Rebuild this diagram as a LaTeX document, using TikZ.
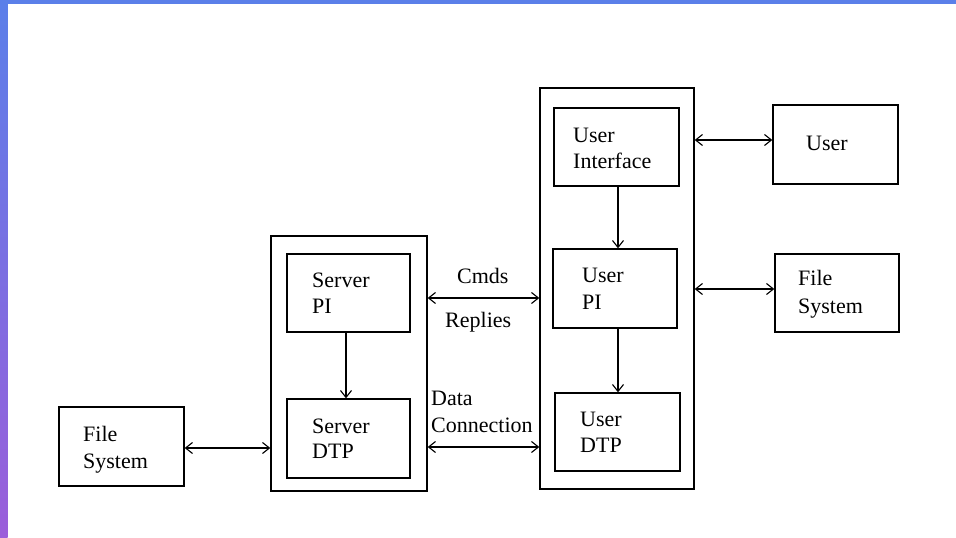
\documentclass[tikz,border=0pt]{standalone}
\usepackage{fontspec}
\setmainfont{Liberation Serif}
\usetikzlibrary{arrows.meta}
\definecolor{bandblue}{RGB}{91,127,233}
\definecolor{bandviolet}{RGB}{155,94,218}
\begin{document}
\begin{tikzpicture}[x=1pt,y=-1pt,
  box/.style={draw=black,line width=1.3pt,inner sep=0pt},
  lbl/.style={anchor=base west,inner sep=0pt,font=\fontsize{22}{26}\selectfont},
  link/.style={line width=1.1pt,{Straight Barb[length=7pt,width=11pt]}-{Straight Barb[length=7pt,width=11pt]}},
  flow/.style={line width=1.1pt,-{Straight Barb[length=7pt,width=11pt]}}]
  \useasboundingbox (0,0) rectangle (956,538);
  \fill[white] (0,0) rectangle (956,538);
  % frame bands
  \fill[bandblue] (0,0) rectangle (956,4);
  \shade[top color=bandblue,bottom color=bandviolet] (0,0) rectangle (7.5,538);

  % boxes
  \node[box,minimum width=125pt,minimum height=79pt] (fsl) at (121.5,446.5) {};
  \node[box,minimum width=156pt,minimum height=255pt] (srv) at (349,363.5) {};
  \node[box,minimum width=123pt,minimum height=78pt] (spi) at (348.5,293) {};
  \node[box,minimum width=123pt,minimum height=79pt] (sdtp) at (348.5,438.5) {};
  \node[box,minimum width=154pt,minimum height=401pt] (cli) at (617,288.5) {};
  \node[box,minimum width=125pt,minimum height=78pt] (ui) at (616.5,147) {};
  \node[box,minimum width=124pt,minimum height=79pt] (upi) at (615,288.5) {};
  \node[box,minimum width=125pt,minimum height=78pt] (udtp) at (617.5,432) {};
  \node[box,minimum width=125pt,minimum height=79pt] (usr) at (835.5,144.5) {};
  \node[box,minimum width=124pt,minimum height=78pt] (fsr) at (837,293) {};

  % labels
  \node[lbl] at (83,441) {File};
  \node[lbl] at (83,468) {System};
  \node[lbl] at (312,287) {Server};
  \node[lbl] at (312,313) {PI};
  \node[lbl] at (312,433) {Server};
  \node[lbl] at (312,458) {DTP};
  \node[lbl] at (573,142) {User};
  \node[lbl] at (573,168) {Interface};
  \node[lbl] at (582,282) {User};
  \node[lbl] at (582,309) {PI};
  \node[lbl] at (580,426) {User};
  \node[lbl] at (580,452) {DTP};
  \node[lbl] at (806,150) {User};
  \node[lbl] at (798,285) {File};
  \node[lbl] at (798,313) {System};
  \node[lbl] at (457,283) {Cmds};
  \node[lbl] at (445,327) {Replies};
  \node[lbl] at (431,405) {Data};
  \node[lbl] at (431,432) {Connection};

  % connectors
  \draw[flow] (spi.south -| 346,0) -- (sdtp.north -| 346,0);
  \draw[flow] (ui.south -| 618,0) -- (upi.north -| 618,0);
  \draw[flow] (upi.south -| 618,0) -- (udtp.north -| 618,0);
  \draw[link] (fsl.east |- 0,448) -- (srv.west |- 0,448);
  \draw[link] (srv.east |- 0,298) -- (cli.west |- 0,298);
  \draw[link] (srv.east |- 0,447) -- (cli.west |- 0,447);
  \draw[link] (cli.east |- 0,140) -- (usr.west |- 0,140);
  \draw[link] (cli.east |- 0,289) -- (fsr.west |- 0,289);
\end{tikzpicture}
\end{document}
